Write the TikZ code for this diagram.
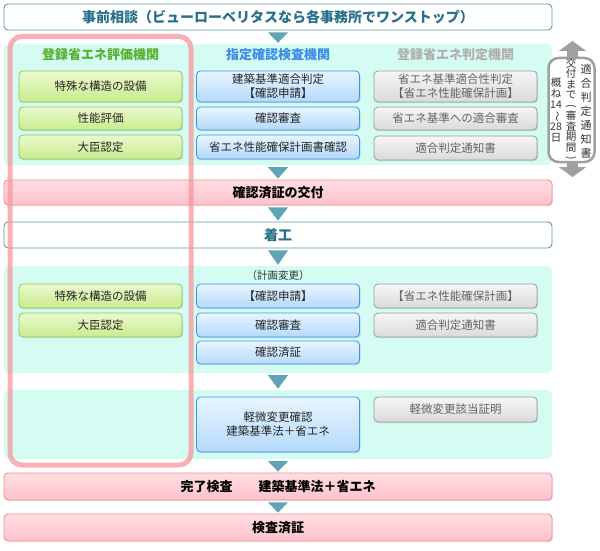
\documentclass[tikz,border=0pt]{standalone}
\usepackage{fontspec}
\setmainfont{Noto Sans CJK JP}
\usepackage{graphicx}
\usetikzlibrary{arrows.meta,positioning,calc,shadows}
\definecolor{cPanel}{RGB}{212,252,243}
\definecolor{cTri}{RGB}{95,165,181}
\definecolor{cTeal}{RGB}{96,154,170}
\definecolor{cTealText}{RGB}{40,112,138}
\definecolor{cPinkLine}{RGB}{240,140,152}
\definecolor{cPinkTop}{RGB}{255,222,226}
\definecolor{cPinkBot}{RGB}{255,194,202}
\definecolor{cFrame}{RGB}{246,150,158}
\definecolor{cGreenLine}{RGB}{140,200,85}
\definecolor{cGreenTop}{RGB}{236,249,206}
\definecolor{cGreenBot}{RGB}{200,236,142}
\definecolor{cGreenHead}{RGB}{88,176,48}
\definecolor{cBlueLine}{RGB}{62,146,238}
\definecolor{cBlueTop}{RGB}{232,246,255}
\definecolor{cBlueBot}{RGB}{180,216,252}
\definecolor{cBlueHead}{RGB}{58,140,230}
\definecolor{cGrayLine}{RGB}{155,155,155}
\definecolor{cGrayTop}{RGB}{246,246,246}
\definecolor{cGrayBot}{RGB}{218,218,218}
\definecolor{cGrayHead}{RGB}{175,175,175}
\definecolor{cGrayText}{RGB}{100,100,100}
\definecolor{cArrow}{RGB}{160,160,160}
\newcommand{\fsz}[2]{\fontsize{#1}{#2}\selectfont}
\newcommand{\tatemark}[1]{\rotatebox[origin=c]{-90}{#1}}
\newcommand{\flowmark}[2]{\fill[cTri] ($(#1.south)+(-10,2)$) -- ($(#1.south)+(10,2)$) -- ($(#2.north)+(0,-1)$) -- cycle;}
\tikzset{
	stage/.style={rounded corners=4pt, minimum width=548pt, inner sep=0pt, line width=.9pt, font=\bfseries\fsz{13}{15}},
	startbox/.style={stage, draw=cTeal, fill=white, text=cTealText, font=\bfseries\fsz{14}{16}},
	pinkbar/.style={stage, draw=cPinkLine, top color=cPinkTop, bottom color=cPinkBot,
		drop shadow={opacity=.2, shadow xshift=1pt, shadow yshift=-1pt}},
	panel/.style={fill=cPanel, rounded corners=5pt, minimum width=548pt, inner sep=0pt},
	head/.style={font=\bfseries\fsz{13}{15}},
	itembox/.style={rounded corners=4pt, minimum width=163pt, inner sep=0pt, align=center,
		line width=.8pt, font=\fsz{11.5}{14}, text=black!85,
		drop shadow={opacity=.25, shadow xshift=1pt, shadow yshift=-1.2pt}},
	evalbox/.style={itembox, draw=cGreenLine, top color=cGreenTop, bottom color=cGreenBot},
	kakuninbox/.style={itembox, draw=cBlueLine, top color=cBlueTop, bottom color=cBlueBot},
	hanteibox/.style={itembox, draw=cGrayLine, top color=cGrayTop, bottom color=cGrayBot, text=cGrayText},
	tate/.style={inner sep=0pt, align=center, text=black!80}
}
\begin{document}
\begin{tikzpicture}[x=1pt, y=-1pt]
	\useasboundingbox (0,0) rectangle (600,551);
	% panels
	\node[panel, minimum height=121pt] (panelA) at (278,104.5) {};
	\node[panel, minimum height=107pt] (panelB) at (278,319.5) {};
	\node[panel, minimum height=69pt] (panelC) at (278,424.5) {};
	% stages
	\node[startbox, minimum height=26pt] (soudan) at (278,17) {事前相談（ビューローベリタスなら各事務所でワンストップ）};
	\node[pinkbar, minimum height=25pt] (kofu) at (278,192.5) {確認済証の交付};
	\node[startbox, minimum height=26pt] (chakko) at (278,235) {着工};
	\node[pinkbar, minimum height=27pt] (kanryo) at (278,486.5) {完了検査　　建築基準法＋省エネ};
	\node[pinkbar, minimum height=27pt] (kensa) at (278,527.5) {検査済証};
	% column heads
	\node[head, text=cGreenHead] (headEval) at (100.5,55) {登録省エネ評価機関};
	\node[head, text=cBlueHead] (headKakunin) at (278,55) {指定確認検査機関};
	\node[head, text=cGrayHead] (headHantei) at (455.5,55) {登録省エネ判定機関};
	% before construction
	\node[evalbox, minimum height=31pt] (evalA1) at (100.5,86.5) {特殊な構造の設備};
	\node[evalbox, minimum height=23pt] (evalA2) at (100.5,118.5) {性能評価};
	\node[evalbox, minimum height=24pt] (evalA3) at (100.5,147) {大臣認定};
	\node[kakuninbox, minimum height=31pt] (kakA1) at (278,86.5) {建築基準適合判定\\【確認申請】};
	\node[kakuninbox, minimum height=23pt] (kakA2) at (278,118.5) {確認審査};
	\node[kakuninbox, minimum height=24pt] (kakA3) at (278,147) {省エネ性能確保計画書確認};
	\node[hanteibox, minimum height=31pt] (hanA1) at (455.5,86.5) {省エネ基準適合性判定\\【省エネ性能確保計画】};
	\node[hanteibox, minimum height=23pt] (hanA2) at (455.5,118.5) {省エネ基準への適合審査};
	\node[hanteibox, minimum height=24pt] (hanA3) at (455.5,148) {適合判定通知書};
	% plan change
	\node[font=\fsz{10.5}{12}, text=black!80] (henkou) at (278,276) {（計画変更）};
	\node[evalbox, minimum height=24pt] (evalB1) at (100.5,296) {特殊な構造の設備};
	\node[evalbox, minimum height=24pt] (evalB2) at (100.5,325) {大臣認定};
	\node[kakuninbox, minimum height=24pt] (kakB1) at (278,296) {【確認申請】};
	\node[kakuninbox, minimum height=24pt] (kakB2) at (278,325) {確認審査};
	\node[kakuninbox, minimum height=23pt] (kakB3) at (278,352.5) {確認済証};
	\node[hanteibox, minimum height=24pt] (hanB1) at (455.5,296) {【省エネ性能確保計画】};
	\node[hanteibox, minimum height=24pt] (hanB2) at (455.5,325) {適合判定通知書};
	% minor change
	\node[kakuninbox, minimum height=55pt] (kakC1) at (278,424.5) {軽微変更確認\\建築基準法＋省エネ};
	\node[hanteibox, minimum height=25pt] (hanC1) at (455.5,409.5) {軽微変更該当証明};
	% flow marks
	\flowmark{soudan}{panelA}
	\flowmark{panelA}{kofu}
	\flowmark{kofu}{chakko}
	\flowmark{chakko}{panelB}
	\flowmark{panelB}{panelC}
	\flowmark{panelC}{kanryo}
	\flowmark{kanryo}{kensa}
	% evaluation frame
	\draw[cFrame, opacity=.75, line width=5pt, rounded corners=12pt] (10,36.5) rectangle (191,465);
	% review period
	\coordinate (periodTop) at (572.5,41);
	\coordinate (periodBot) at (572.5,177);
	\draw[cArrow, line width=11pt, {Triangle[width=27pt,length=10pt]}-{Triangle[width=27pt,length=10pt]}] (periodTop) -- (periodBot);
	\node[draw=cArrow, line width=2.5pt, fill=white, rounded corners=10pt, minimum width=46pt, minimum height=104pt, inner sep=0pt] (period) at (571.5,110) {};
	\node[tate, font=\fsz{11}{14}] (tateR) at ($(period.center)+(14.5,1)$) {適\\合\\判\\定\\通\\知\\書};
	\node[tate, font=\fsz{10.5}{10.5}] (tateM) at ($(period.center)+(-0.5,0)$) {交\\付\\ま\\で\\\tatemark{(}\\審\\査\\期\\間\\\tatemark{)}};
	\node[tate, font=\fsz{10.5}{11}] (tateL) at ($(period.center)+(-15.5,0)$) {概\\ね\\14\\\tatemark{～}\\28\\日};
\end{tikzpicture}
\end{document}
